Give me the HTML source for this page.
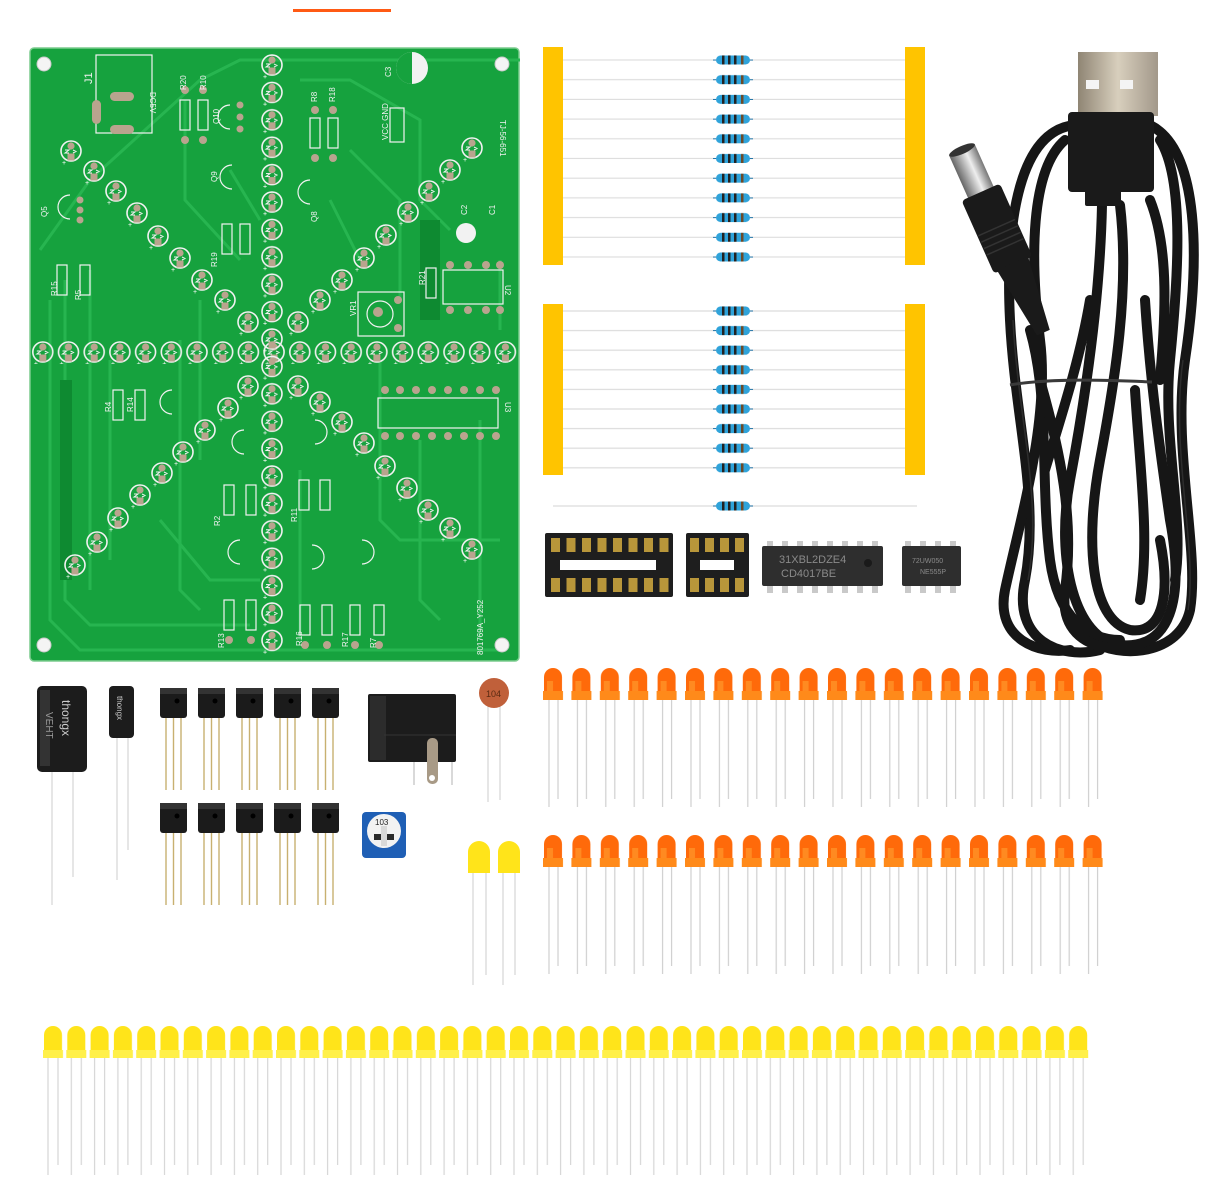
<!DOCTYPE html>
<html><head><meta charset="utf-8"><style>
html,body{margin:0;padding:0;background:#fff;}
svg{display:block;}
</style></head><body>
<svg width="1220" height="1193" viewBox="0 0 1220 1193" xmlns="http://www.w3.org/2000/svg" font-family="Liberation Sans, sans-serif">
<defs>
  <g id="pl">
    <circle r="10" fill="none" stroke="#f2f2f2" stroke-width="1.6"/>
    <circle cx="0" cy="-5" r="3.6" fill="#b9a48e"/>
    <rect x="-3.5" y="2.5" width="7" height="7" fill="#b9a48e"/>
    <path d="M-6 -1 h4 l-4 3 h4 M2 -1 l3 1.5 l-3 1.5" stroke="#f2f2f2" stroke-width="1" fill="none"/>
    <text x="-9" y="14" font-size="7" fill="#fff">+</text>
  </g>
  <pattern id="prow" x="30" y="340" width="25.7" height="24" patternUnits="userSpaceOnUse">
    <use href="#pl" x="12.8" y="12"/>
  </pattern>
  <pattern id="pcol" x="260" y="52" width="24" height="27.4" patternUnits="userSpaceOnUse">
    <use href="#pl" x="12" y="13"/>
  </pattern>
  <g id="res">
    <path d="M0 0 h40" stroke="#1c6fa3" stroke-width="1"/>
    <rect x="3" y="-4.5" width="34" height="9" rx="4.5" fill="#2fa3da"/>
    <rect x="9" y="-4.5" width="2.5" height="9" fill="#222"/>
    <rect x="15" y="-4.5" width="2.5" height="9" fill="#222"/>
    <rect x="21" y="-4.5" width="2.5" height="9" fill="#222"/>
    <rect x="28" y="-4.5" width="2.5" height="9" fill="#6b4b2a"/>
  </g>
  <pattern id="rtop" x="563" y="50.2" width="342" height="19.7" patternUnits="userSpaceOnUse">
    <line x1="0" y1="9.8" x2="342" y2="9.8" stroke="#dcdcdc" stroke-width="1.2"/>
    <use href="#res" x="150" y="9.8"/>
  </pattern>
  <pattern id="rbot" x="563" y="301.2" width="342" height="19.6" patternUnits="userSpaceOnUse">
    <line x1="0" y1="9.8" x2="342" y2="9.8" stroke="#dcdcdc" stroke-width="1.2"/>
    <use href="#res" x="150" y="9.8"/>
  </pattern>
  <pattern id="ledO" x="543" y="667" width="28.4" height="145" patternUnits="userSpaceOnUse">
    <path d="M1 33 V10 A9 9 0 0 1 19 10 V33 Z" fill="#ff6a0a"/>
    <rect x="0" y="24" width="20" height="9" fill="#ff8a1a"/>
    <path d="M4 14 h6 v10 h-6z" fill="#ffa030" opacity=".6"/>
    <line x1="6" y1="33" x2="6" y2="140" stroke="#cfcfcf" stroke-width="1.2"/>
    <line x1="15" y1="33" x2="15" y2="132" stroke="#cfcfcf" stroke-width="1.2"/>
  </pattern>
  <pattern id="ledO2" x="543" y="834" width="28.4" height="145" patternUnits="userSpaceOnUse">
    <path d="M1 33 V10 A9 9 0 0 1 19 10 V33 Z" fill="#ff6a0a"/>
    <rect x="0" y="24" width="20" height="9" fill="#ff8a1a"/>
    <path d="M4 14 h6 v10 h-6z" fill="#ffa030" opacity=".6"/>
    <line x1="6" y1="33" x2="6" y2="140" stroke="#cfcfcf" stroke-width="1.2"/>
    <line x1="15" y1="33" x2="15" y2="132" stroke="#cfcfcf" stroke-width="1.2"/>
  </pattern>
  <pattern id="ledY" x="43" y="1025" width="23.3" height="155" patternUnits="userSpaceOnUse">
    <path d="M1 33 V10 A9 9 0 0 1 19 10 V33 Z" fill="#ffe41a"/>
    <rect x="0" y="25" width="20" height="8" fill="#fff04a"/>
    <line x1="5" y1="33" x2="5" y2="150" stroke="#d6d6d6" stroke-width="1.2"/>
    <line x1="15" y1="33" x2="15" y2="140" stroke="#d6d6d6" stroke-width="1.2"/>
  </pattern>
  <g id="tr">
    <rect x="0" y="0" width="27" height="30" rx="3" fill="#1b1b1b"/>
    <rect x="0" y="0" width="27" height="6" fill="#333"/>
    <circle cx="17" cy="13" r="2.5" fill="#000"/>
    <line x1="6" y1="30" x2="6" y2="102" stroke="#c8b070" stroke-width="1.4"/>
    <line x1="13.5" y1="30" x2="13.5" y2="102" stroke="#c8b070" stroke-width="1.4"/>
    <line x1="21" y1="30" x2="21" y2="102" stroke="#c8b070" stroke-width="1.4"/>
  </g>
  <linearGradient id="metal" x1="0" x2="1"><stop offset="0" stop-color="#8f8574"/><stop offset=".5" stop-color="#d8cfbd"/><stop offset="1" stop-color="#a2988a"/></linearGradient>
  <linearGradient id="tip" x1="0" y1="0" x2="0" y2="1"><stop offset="0" stop-color="#777"/><stop offset=".4" stop-color="#eee"/><stop offset="1" stop-color="#666"/></linearGradient>
</defs>

<rect x="293" y="9" width="98" height="3" fill="#ff5a14"/>

<!-- PCB -->
<rect x="30" y="48" width="489" height="613" rx="4" fill="#16a23e" stroke="#7bcc8e" stroke-width="1.5"/>
<g stroke="#27b550" stroke-width="3" fill="none">
  <path d="M40 250 L90 180 L200 80 L240 60 L520 60"/>
  <path d="M50 300 V620 L80 650 H500"/>
  <path d="M65 280 V600 L90 625 H250"/>
  <path d="M90 270 V590"/>
  <path d="M110 360 V560"/>
  <path d="M180 340 V590 L200 610"/>
  <path d="M200 300 V460"/>
  <path d="M185 100 V200 L240 260"/>
  <path d="M300 80 H350 L420 120 V200 L450 230"/>
  <path d="M350 150 L400 200 V300"/>
  <path d="M380 360 V520 L400 540 H500"/>
  <path d="M420 440 V600 L440 620"/>
  <path d="M480 420 V640"/>
  <path d="M500 260 V330"/>
  <path d="M300 470 V640"/>
  <path d="M160 520 L210 580 H260"/>
  <path d="M230 170 L260 220"/>
  <path d="M330 200 L360 260"/>
</g>
<rect x="60" y="380" width="12" height="200" fill="#0e8a31"/>
<rect x="420" y="220" width="20" height="100" fill="#0e8a31"/>
<g fill="#f4f4f4" stroke="#c9c9c9"><circle cx="44" cy="64" r="7"/><circle cx="502" cy="64" r="7"/><circle cx="44" cy="645" r="7"/><circle cx="502" cy="645" r="7"/></g>
<rect x="30" y="340" width="489" height="24" fill="url(#prow)"/>
<rect x="260" y="52" width="24" height="603" fill="url(#pcol)"/>
<g>
  <use href="#pl" x="71" y="151"/><use href="#pl" x="94" y="171"/><use href="#pl" x="116" y="191"/><use href="#pl" x="137" y="213"/><use href="#pl" x="158" y="236"/><use href="#pl" x="180" y="258"/><use href="#pl" x="202" y="280"/><use href="#pl" x="225" y="300"/><use href="#pl" x="248" y="322"/>
  <use href="#pl" x="472" y="148"/><use href="#pl" x="450" y="170"/><use href="#pl" x="429" y="191"/><use href="#pl" x="408" y="212"/><use href="#pl" x="386" y="235"/><use href="#pl" x="364" y="258"/><use href="#pl" x="342" y="280"/><use href="#pl" x="320" y="300"/><use href="#pl" x="298" y="322"/>
  <use href="#pl" x="75" y="565"/><use href="#pl" x="97" y="542"/><use href="#pl" x="118" y="518"/><use href="#pl" x="140" y="495"/><use href="#pl" x="162" y="473"/><use href="#pl" x="183" y="452"/><use href="#pl" x="205" y="430"/><use href="#pl" x="228" y="408"/><use href="#pl" x="248" y="386"/>
  <use href="#pl" x="298" y="386"/><use href="#pl" x="320" y="402"/><use href="#pl" x="342" y="422"/><use href="#pl" x="364" y="443"/><use href="#pl" x="385" y="466"/><use href="#pl" x="407" y="488"/><use href="#pl" x="428" y="510"/><use href="#pl" x="450" y="528"/><use href="#pl" x="472" y="549"/>
</g>
<g fill="none" stroke="#f2f2f2" stroke-width="1.2">
  <rect x="96" y="55" width="56" height="78"/>
  <rect x="180" y="100" width="10" height="30"/><rect x="198" y="100" width="10" height="30"/>
  <rect x="310" y="118" width="10" height="30"/><rect x="328" y="118" width="10" height="30"/>
  <rect x="222" y="224" width="10" height="30"/><rect x="240" y="224" width="10" height="30"/>
  <rect x="57" y="265" width="10" height="30"/><rect x="80" y="265" width="10" height="30"/>
  <rect x="113" y="390" width="10" height="30"/><rect x="135" y="390" width="10" height="30"/>
  <rect x="224" y="485" width="10" height="30"/><rect x="246" y="485" width="10" height="30"/>
  <rect x="299" y="480" width="10" height="30"/><rect x="320" y="480" width="10" height="30"/>
  <rect x="224" y="600" width="10" height="30"/><rect x="246" y="600" width="10" height="30"/>
  <rect x="300" y="605" width="10" height="30"/><rect x="322" y="605" width="10" height="30"/>
  <rect x="350" y="605" width="10" height="30"/><rect x="374" y="605" width="10" height="30"/>
  <rect x="426" y="268" width="10" height="30"/>
  <rect x="443" y="270" width="60" height="34"/>
  <rect x="378" y="398" width="120" height="30"/>
  <rect x="358" y="292" width="46" height="44"/>
  <rect x="390" y="108" width="14" height="34"/>
  <path d="M230 105 a12 12 0 1 0 0 24"/><path d="M232 165 a12 12 0 1 0 0 24"/><path d="M310 180 a12 12 0 1 0 0 24"/>
  <path d="M70 195 a12 12 0 1 0 0 24"/><path d="M172 390 a12 12 0 1 0 0 24"/><path d="M244 430 a12 12 0 1 0 0 24"/>
  <path d="M315 420 a12 12 0 1 1 0 24"/><path d="M240 540 a12 12 0 1 0 0 24"/><path d="M312 545 a12 12 0 1 1 0 24"/><path d="M362 540 a12 12 0 1 1 0 24"/>
</g>
<circle cx="412" cy="68" r="16" fill="#f2f2f2"/><path d="M412 52 a16 16 0 0 0 0 32z" fill="#16a23e"/>
<circle cx="466" cy="233" r="10" fill="#f2f2f2"/>
<circle cx="380" cy="314" r="13" fill="none" stroke="#f2f2f2" stroke-width="1.2"/>
<g fill="#b9a48e">
  <rect x="110" y="92" width="24" height="9" rx="4.5"/><rect x="92" y="100" width="9" height="24" rx="4.5"/><rect x="110" y="125" width="24" height="9" rx="4.5"/>
  <circle cx="185" cy="90" r="4"/><circle cx="203" cy="90" r="4"/><circle cx="185" cy="140" r="4"/><circle cx="203" cy="140" r="4"/>
  <circle cx="240" cy="105" r="3.5"/><circle cx="240" cy="117" r="3.5"/><circle cx="240" cy="129" r="3.5"/>
  <circle cx="315" cy="110" r="4"/><circle cx="333" cy="110" r="4"/><circle cx="315" cy="158" r="4"/><circle cx="333" cy="158" r="4"/>
  <circle cx="80" cy="200" r="3.5"/><circle cx="80" cy="210" r="3.5"/><circle cx="80" cy="220" r="3.5"/>
  <circle cx="450" cy="265" r="4"/><circle cx="468" cy="265" r="4"/><circle cx="486" cy="265" r="4"/><circle cx="500" cy="265" r="4"/>
  <circle cx="450" cy="310" r="4"/><circle cx="468" cy="310" r="4"/><circle cx="486" cy="310" r="4"/><circle cx="500" cy="310" r="4"/>
  <circle cx="385" cy="390" r="4"/><circle cx="400" cy="390" r="4"/><circle cx="416" cy="390" r="4"/><circle cx="432" cy="390" r="4"/><circle cx="448" cy="390" r="4"/><circle cx="464" cy="390" r="4"/><circle cx="480" cy="390" r="4"/><circle cx="496" cy="390" r="4"/>
  <circle cx="385" cy="436" r="4"/><circle cx="400" cy="436" r="4"/><circle cx="416" cy="436" r="4"/><circle cx="432" cy="436" r="4"/><circle cx="448" cy="436" r="4"/><circle cx="464" cy="436" r="4"/><circle cx="480" cy="436" r="4"/><circle cx="496" cy="436" r="4"/>
  <circle cx="378" cy="312" r="5"/><circle cx="398" cy="300" r="4"/><circle cx="398" cy="328" r="4"/>
  <circle cx="229" cy="640" r="4"/><circle cx="251" cy="640" r="4"/><circle cx="305" cy="645" r="4"/><circle cx="327" cy="645" r="4"/><circle cx="355" cy="645" r="4"/><circle cx="379" cy="645" r="4"/>
</g>
<g fill="#f2f2f2" font-size="8">
  <text x="82" y="82" font-size="11" transform="rotate(-90 88 78)">J1</text>
  <text x="150" y="92" transform="rotate(90 150 92)">DC5V</text>
  <text x="380" y="78" transform="rotate(-90 385 72)">C3</text>
  <text x="500" y="120" transform="rotate(90 500 120)">TJ-56-651</text>
  <text x="505" y="285" transform="rotate(90 505 285)">U2</text>
  <text x="505" y="402" transform="rotate(90 505 402)">U3</text>
  <text x="483" y="655" transform="rotate(-90 483 655)">801769A_Y252</text>
  <text x="176" y="92" transform="rotate(-90 180 86)">R20</text><text x="196" y="92" transform="rotate(-90 200 86)">R10</text>
  <text x="310" y="105" transform="rotate(-90 312 100)">R8</text><text x="328" y="105" transform="rotate(-90 330 100)">R18</text>
  <text x="52" y="305" transform="rotate(-90 50 298)">R15</text><text x="72" y="305" transform="rotate(-90 74 298)">R5</text>
  <text x="210" y="270" transform="rotate(-90 212 265)">R19</text>
  <text x="420" y="290" transform="rotate(-90 420 285)">R21</text>
  <text x="350" y="318" transform="rotate(-90 352 314)">VR1</text>
  <text x="462" y="220" transform="rotate(-90 462 215)">C2</text><text x="490" y="220" transform="rotate(-90 490 215)">C1</text>
  <text x="380" y="148" transform="rotate(-90 380 140)">VCC GND</text>
  <text x="210" y="650" transform="rotate(-90 216 642)">R13</text><text x="290" y="650" transform="rotate(-90 294 642)">R16</text>
  <text x="335" y="650" transform="rotate(-90 340 642)">R17</text><text x="362" y="650" transform="rotate(-90 368 642)">R7</text>
  <text x="104" y="415" transform="rotate(-90 106 410)">R4</text><text x="126" y="415" transform="rotate(-90 128 410)">R14</text>
  <text x="212" y="530" transform="rotate(-90 214 524)">R2</text><text x="290" y="525" transform="rotate(-90 292 520)">R11</text>
  <text x="40" y="220" transform="rotate(-90 42 215)">Q5</text><text x="210" y="185" transform="rotate(-90 212 180)">Q9</text>
  <text x="210" y="125" transform="rotate(-90 214 120)">Q10</text><text x="310" y="225" transform="rotate(-90 312 220)">Q8</text>
</g>

<!-- resistor tapes -->
<rect x="543" y="47" width="20" height="218" fill="#ffc400"/>
<rect x="905" y="47" width="20" height="218" fill="#ffc400"/>
<rect x="563" y="50.2" width="342" height="216.7" fill="url(#rtop)"/>
<rect x="543" y="304" width="20" height="171" fill="#ffc400"/>
<rect x="905" y="304" width="20" height="171" fill="#ffc400"/>
<rect x="563" y="301.2" width="342" height="176.4" fill="url(#rbot)"/>
<line x1="553" y1="506" x2="917" y2="506" stroke="#dcdcdc" stroke-width="1.2"/>
<use href="#res" x="713" y="506"/>

<!-- IC sockets -->
<rect x="545" y="533" width="128" height="64" rx="2" fill="#1e1e1e"/>
<rect x="560" y="560" width="96" height="10" fill="#fff"/>
<g fill="#b8963a">
  <rect x="551" y="538" width="9" height="14"/><rect x="566.5" y="538" width="9" height="14"/><rect x="582" y="538" width="9" height="14"/><rect x="597.5" y="538" width="9" height="14"/><rect x="613" y="538" width="9" height="14"/><rect x="628.5" y="538" width="9" height="14"/><rect x="644" y="538" width="9" height="14"/><rect x="659.5" y="538" width="9" height="14"/>
  <rect x="551" y="578" width="9" height="14"/><rect x="566.5" y="578" width="9" height="14"/><rect x="582" y="578" width="9" height="14"/><rect x="597.5" y="578" width="9" height="14"/><rect x="613" y="578" width="9" height="14"/><rect x="628.5" y="578" width="9" height="14"/><rect x="644" y="578" width="9" height="14"/><rect x="659.5" y="578" width="9" height="14"/>
</g>
<rect x="686" y="533" width="63" height="64" rx="2" fill="#1e1e1e"/>
<rect x="700" y="560" width="34" height="10" fill="#fff"/>
<g fill="#b8963a">
  <rect x="690" y="538" width="9" height="14"/><rect x="705" y="538" width="9" height="14"/><rect x="720" y="538" width="9" height="14"/><rect x="735" y="538" width="9" height="14"/>
  <rect x="690" y="578" width="9" height="14"/><rect x="705" y="578" width="9" height="14"/><rect x="720" y="578" width="9" height="14"/><rect x="735" y="578" width="9" height="14"/>
</g>
<g fill="#c9c9c9">
  <rect x="767" y="541" width="6" height="52"/><rect x="782" y="541" width="6" height="52"/><rect x="797" y="541" width="6" height="52"/><rect x="812" y="541" width="6" height="52"/><rect x="827" y="541" width="6" height="52"/><rect x="842" y="541" width="6" height="52"/><rect x="857" y="541" width="6" height="52"/><rect x="872" y="541" width="6" height="52"/>
  <rect x="905" y="541" width="6" height="52"/><rect x="920" y="541" width="6" height="52"/><rect x="935" y="541" width="6" height="52"/><rect x="950" y="541" width="6" height="52"/>
</g>
<rect x="762" y="546" width="121" height="40" rx="2" fill="#2e2e2e"/>
<circle cx="868" cy="563" r="4" fill="#1a1a1a"/>
<text x="779" y="563" font-size="11" fill="#8a8a8a">31XBL2DZE4</text>
<text x="781" y="577" font-size="11" fill="#8a8a8a">CD4017BE</text>
<rect x="902" y="546" width="59" height="40" rx="2" fill="#2e2e2e"/>
<text x="912" y="563" font-size="7" fill="#8a8a8a">72UW050</text>
<text x="920" y="574" font-size="7" fill="#8a8a8a">NE555P</text>

<!-- cable -->
<g fill="none" stroke="#161616" stroke-width="10" stroke-linecap="round">
  <path d="M1075 125 C1020 130 1005 220 1010 320 C1015 420 1040 500 1025 580 C1012 640 1060 660 1100 650"/>
  <path d="M1150 125 C1200 150 1200 260 1185 360 C1172 450 1200 550 1190 610 C1180 655 1120 660 1090 640"/>
  <path d="M1102 205 C1100 300 1085 400 1070 480 C1055 560 1075 640 1120 645 C1170 650 1185 600 1170 520 C1160 450 1150 380 1145 300"/>
  <path d="M1120 205 C1130 290 1115 380 1100 460 C1085 540 1090 620 1130 630 C1165 635 1170 590 1160 540"/>
  <path d="M1030 330 C1050 400 1040 480 1050 560 C1058 620 1090 640 1120 640"/>
  <path d="M1150 200 C1170 250 1165 320 1160 380"/>
  <path d="M1065 140 C1030 170 1030 260 1040 340 C1050 420 1020 520 1005 590 C995 640 1040 655 1070 650"/>
  <path d="M1160 140 C1185 180 1178 280 1170 360 C1162 440 1185 520 1175 580"/>
  <path d="M1040 380 C1060 450 1075 520 1065 590 C1060 630 1085 645 1110 648"/>
  <path d="M1135 390 C1140 470 1150 540 1140 600"/>
  <path d="M1090 300 C1080 360 1060 420 1045 470"/>
</g>
<g fill="none" stroke="#333" stroke-width="1.5" opacity=".8">
  <path d="M1013 320 C1018 420 1043 500 1028 580"/><path d="M1183 360 C1170 450 1198 550 1188 610"/>
</g>
<path d="M1010 385 C1050 378 1110 380 1152 382" stroke="#3a3a3a" stroke-width="3" fill="none"/>
<rect x="1078" y="52" width="80" height="64" fill="url(#metal)"/>
<rect x="1086" y="80" width="13" height="9" fill="#f4f4f4"/><rect x="1120" y="80" width="13" height="9" fill="#f4f4f4"/>
<rect x="1068" y="112" width="86" height="80" rx="4" fill="#1a1a1a"/>
<rect x="1085" y="190" width="36" height="16" rx="2" fill="#1a1a1a"/>
<g transform="translate(962,150) rotate(66)">
  <rect x="0" y="-14" width="48" height="28" fill="url(#tip)"/>
  <ellipse cx="0" cy="0" rx="4" ry="14" fill="#333"/>
  <rect x="46" y="-21" width="80" height="42" rx="4" fill="#1a1a1a"/>
  <g stroke="#333" stroke-width="1.5"><line x1="85" y1="-20" x2="85" y2="20"/><line x1="92" y1="-20" x2="92" y2="20"/><line x1="99" y1="-20" x2="99" y2="20"/><line x1="106" y1="-20" x2="106" y2="20"/></g>
  <path d="M124 -17 L200 -7 V7 L124 17 Z" fill="#1a1a1a"/>
</g>

<!-- capacitors -->
<line x1="52" y1="770" x2="52" y2="905" stroke="#ddd" stroke-width="1.5"/>
<line x1="73" y1="770" x2="73" y2="877" stroke="#ddd" stroke-width="1.5"/>
<rect x="37" y="686" width="50" height="86" rx="5" fill="#1c1c1c"/>
<rect x="40" y="690" width="10" height="76" fill="#333"/>
<text x="62" y="700" font-size="12" fill="#ccc" transform="rotate(90 62 700)">thongx</text>
<text x="46" y="712" font-size="10" fill="#999" transform="rotate(90 46 712)">VEHT</text>
<line x1="117" y1="737" x2="117" y2="880" stroke="#ddd" stroke-width="1.5"/>
<line x1="128" y1="737" x2="128" y2="850" stroke="#ddd" stroke-width="1.5"/>
<rect x="109" y="686" width="25" height="52" rx="4" fill="#1c1c1c"/>
<text x="117" y="696" font-size="8" fill="#ccc" transform="rotate(90 117 696)">thongx</text>

<use href="#tr" x="160" y="688"/><use href="#tr" x="198" y="688"/><use href="#tr" x="236" y="688"/><use href="#tr" x="274" y="688"/><use href="#tr" x="312" y="688"/>
<use href="#tr" x="160" y="803"/><use href="#tr" x="198" y="803"/><use href="#tr" x="236" y="803"/><use href="#tr" x="274" y="803"/><use href="#tr" x="312" y="803"/>

<rect x="368" y="694" width="88" height="68" rx="2" fill="#1c1c1c"/>
<rect x="370" y="696" width="16" height="64" fill="#2c2c2c"/>
<line x1="384" y1="735" x2="456" y2="735" stroke="#333"/>
<rect x="427" y="738" width="11" height="46" rx="5" fill="#a89a86"/>
<circle cx="432" cy="778" r="3" fill="#fff"/>
<line x1="414" y1="762" x2="414" y2="785" stroke="#ccc" stroke-width="1.5"/>
<line x1="452" y1="762" x2="452" y2="785" stroke="#ccc" stroke-width="1.5"/>

<line x1="488" y1="700" x2="488" y2="802" stroke="#ddd" stroke-width="1.5"/>
<line x1="500" y1="700" x2="500" y2="800" stroke="#ddd" stroke-width="1.5"/>
<circle cx="494" cy="693" r="15" fill="#c0603a"/>
<text x="486" y="697" font-size="9" fill="#5a2a12">104</text>

<rect x="362" y="812" width="44" height="46" rx="4" fill="#1f5fb5"/>
<circle cx="384" cy="831" r="17" fill="#f2f2f2"/>
<rect x="374" y="834" width="20" height="6" fill="#2a2a2a"/>
<rect x="381" y="826" width="6" height="20" fill="#d9d9d9"/>
<text x="375" y="825" font-size="8" fill="#222">103</text>

<g>
  <path d="M468 873 V852 A11 11 0 0 1 490 852 V873Z" fill="#ffe41a"/>
  <path d="M498 873 V852 A11 11 0 0 1 520 852 V873Z" fill="#ffe41a"/>
  <g stroke="#d6d6d6" stroke-width="1.2"><line x1="473" y1="873" x2="473" y2="985"/><line x1="486" y1="873" x2="486" y2="975"/><line x1="503" y1="873" x2="503" y2="985"/><line x1="515" y1="873" x2="515" y2="975"/></g>
</g>

<rect x="543" y="667" width="568" height="145" fill="url(#ledO)"/>
<rect x="543" y="834" width="568" height="145" fill="url(#ledO2)"/>
<rect x="43" y="1025" width="1048.5" height="155" fill="url(#ledY)"/>
</svg>
</body></html>
